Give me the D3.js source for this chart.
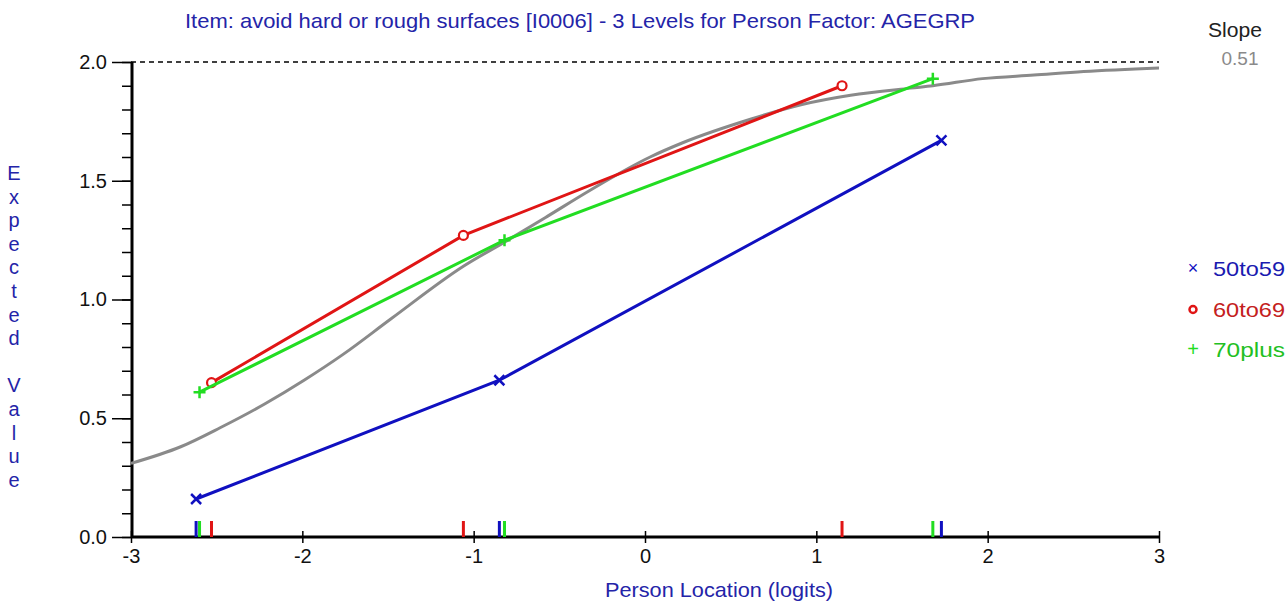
<!DOCTYPE html>
<html>
<head>
<meta charset="utf-8">
<script src="https://cdn.jsdelivr.net/npm/d3@7"></script>
<style>
    body { margin: 0; background: #fff; }
    text { font-family: "Liberation Sans Narrow", "Arial Narrow", "Liberation Sans", sans-serif; }
</style>
</head>
<body>
<svg id="chart"></svg>
<script>
// class intervals per age group: mean person location and observed mean score
const groupNames = ['50to59', '60to69', '70plus'];
const groupColors = ['#1010c0', '#e01515', '#22dd22'];
const loc50to59 = [-2.62, -0.85, 1.73];
const obs50to59 = [0.16, 0.66, 1.67];
const loc60to69 = [-2.53, -1.06, 1.15];
const obs60to69 = [0.65, 1.27, 1.90];
const loc70plus = [-2.60, -0.82, 1.68];
const obs70plus = [0.61, 1.25, 1.93];

// expected value curve
const curveLoc = [-3, -2.71, -2.48, -2.22, -1.99, -1.76, -1.48, -1.06, -0.80, -0.57, -0.32, 0.03, 0.22, 0.62, 0.91, 1.20, 1.55, 1.68, 1.97, 2.27, 2.56, 3];
const curveVal = [0.31, 0.38, 0.46, 0.56, 0.66, 0.77, 0.92, 1.14, 1.25, 1.35, 1.46, 1.60, 1.66, 1.76, 1.82, 1.86, 1.89, 1.90, 1.93, 1.945, 1.96, 1.975];

const xTicks = [-3, -2, -1, 0, 1, 2, 3];
const yTicks = [0.0, 0.5, 1.0, 1.5, 2.0];
const slopeValue = '0.51';

const config = {
    width: 1288,
    height: 601,
    margin: { top: 62, right: 129, bottom: 64, left: 131 }
};

const svg = d3.select('#chart')
    .attr('width', config.width)
    .attr('height', config.height);

const xScale = d3.scaleLinear()
    .domain([-3, 3])
    .range([config.margin.left, config.width - config.margin.right]);

const yScale = d3.scaleLinear()
    .domain([0, 2])
    .range([config.height - config.margin.bottom, config.margin.top]);

const series = [
    { name: groupNames[0], color: groupColors[0], marker: 'x', pts: loc50to59.map((d, i) => ({ x: d, y: obs50to59[i] })) },
    { name: groupNames[1], color: groupColors[1], marker: 'o', pts: loc60to69.map((d, i) => ({ x: d, y: obs60to69[i] })) },
    { name: groupNames[2], color: groupColors[2], marker: '+', pts: loc70plus.map((d, i) => ({ x: d, y: obs70plus[i] })) }
];

// title
svg.append('text')
    .attr('x', 580)
    .attr('y', 28)
    .attr('text-anchor', 'middle')
    .attr('fill', '#2424a8')
    .attr('textLength', 790)
    .attr('lengthAdjust', 'spacingAndGlyphs')
    .style('font-size', '21px')
    .text('Item: avoid hard or rough surfaces [I0006] - 3 Levels for Person Factor: AGEGRP');

// slope
svg.append('text')
    .attr('x', 1235).attr('y', 37)
    .attr('text-anchor', 'middle')
    .attr('fill', '#222')
    .attr('textLength', 54)
    .attr('lengthAdjust', 'spacingAndGlyphs')
    .style('font-size', '20px')
    .text('Slope');
svg.append('text')
    .attr('x', 1240).attr('y', 65)
    .attr('text-anchor', 'middle')
    .attr('fill', '#8a8a8a')
    .style('font-size', '19px')
    .text(slopeValue);

// dashed upper bound
svg.append('line')
    .attr('x1', xScale(-3)).attr('x2', xScale(3))
    .attr('y1', yScale(2)).attr('y2', yScale(2))
    .attr('stroke', '#000')
    .attr('stroke-width', 1.3)
    .attr('stroke-dasharray', '5,4');

// y axis
const yAxis = d3.axisLeft(yScale)
    .tickValues(d3.range(0, 2.001, 0.1))
    .tickSize(10)
    .tickFormat('');
const yAxisG = svg.append('g')
    .attr('transform', `translate(${xScale(-3) + 1},0)`)
    .call(yAxis);
yAxisG.select('.domain').attr('stroke-width', 3).attr('d', `M0,${yScale(0)}V${yScale(2)}`);
yAxisG.selectAll('.tick line').attr('stroke-width', 1.5);

const yMajor = d3.axisLeft(yScale)
    .tickValues(yTicks)
    .tickSize(20)
    .tickPadding(5)
    .tickFormat(d3.format('.1f'));
const yMajorG = svg.append('g')
    .attr('transform', `translate(${xScale(-3) + 1},0)`)
    .call(yMajor);
yMajorG.select('.domain').remove();
yMajorG.selectAll('.tick line').attr('stroke-width', 1.5);
yMajorG.selectAll('.tick text')
    .style('font-size', '20px')
    .attr('fill', '#111');

// x axis
const xAxis = d3.axisBottom(xScale)
    .tickValues(xTicks)
    .tickSize(6)
    .tickPadding(6)
    .tickFormat(d => d);
const xAxisG = svg.append('g')
    .attr('transform', `translate(0,${yScale(0)})`)
    .call(xAxis);
xAxisG.select('.domain').attr('stroke-width', 3).attr('d', `M${xScale(-3)},0H${xScale(3)}`);
xAxisG.selectAll('.tick line').attr('y1', -6).attr('stroke-width', 1.5);
xAxisG.selectAll('.tick text')
    .style('font-size', '20px')
    .attr('fill', '#111');

// axis titles
svg.append('text')
    .attr('x', 719).attr('y', 597)
    .attr('text-anchor', 'middle')
    .attr('fill', '#2424a8')
    .attr('textLength', 228)
    .attr('lengthAdjust', 'spacingAndGlyphs')
    .style('font-size', '21px')
    .text('Person Location (logits)');

const yLabel = 'Expected Value'.split('');
svg.append('g').selectAll('text')
    .data(yLabel)
    .join('text')
    .attr('x', 14)
    .attr('y', (d, i) => 180 + i * 23.6)
    .attr('text-anchor', 'middle')
    .attr('fill', '#2424a8')
    .style('font-size', '20px')
    .text(d => d);

// expected value curve
const curveData = curveLoc.map((d, i) => ({ x: d, y: curveVal[i] }));
const curveLine = d3.line()
    .x(d => xScale(d.x))
    .y(d => yScale(d.y))
    .curve(d3.curveMonotoneX);
svg.append('path')
    .datum(curveData)
    .attr('fill', 'none')
    .attr('stroke', '#8a8a8a')
    .attr('stroke-width', 3)
    .attr('d', curveLine);

// class interval location marks on the x axis
series.forEach(s => {
    svg.append('g').selectAll('line')
        .data(s.pts)
        .join('line')
        .attr('x1', d => xScale(d.x)).attr('x2', d => xScale(d.x))
        .attr('y1', yScale(0) - 16).attr('y2', yScale(0))
        .attr('stroke', s.color)
        .attr('stroke-width', 3);
});

function drawMarker(g, type, color, cx, cy) {
    if (type === 'x') {
        g.append('path')
            .attr('d', `M${cx - 5},${cy - 5}L${cx + 5},${cy + 5}M${cx - 5},${cy + 5}L${cx + 5},${cy - 5}`)
            .attr('stroke', color).attr('stroke-width', 2.5).attr('fill', 'none');
    } else if (type === 'o') {
        g.append('circle')
            .attr('cx', cx).attr('cy', cy).attr('r', 4.5)
            .attr('stroke', color).attr('stroke-width', 2.2).attr('fill', '#fff');
    } else {
        g.append('path')
            .attr('d', `M${cx - 6},${cy}H${cx + 6}M${cx},${cy - 6}V${cy + 6}`)
            .attr('stroke', color).attr('stroke-width', 2.5).attr('fill', 'none');
    }
}

// observed means
const obsLine = d3.line()
    .x(d => xScale(d.x))
    .y(d => yScale(d.y));
series.forEach(s => {
    const g = svg.append('g');
    g.append('path')
        .datum(s.pts)
        .attr('fill', 'none')
        .attr('stroke', s.color)
        .attr('stroke-width', 3)
        .attr('d', obsLine);
    s.pts.forEach(p => drawMarker(g, s.marker, s.color, xScale(p.x), yScale(p.y)));
});

// legend
const legendTextColors = ['#1a1ab0', '#c42020', '#22c022'];
series.forEach((s, i) => {
    const ly = 268 + i * 40.5;
    const g = svg.append('g');
    if (s.marker === 'x') {
        g.append('text').attr('x', 1193).attr('y', ly + 6).attr('text-anchor', 'middle')
            .attr('fill', s.color).style('font-size', '18px').text('×');
    } else if (s.marker === 'o') {
        g.append('circle').attr('cx', 1193).attr('cy', ly + 1).attr('r', 3.5)
            .attr('stroke', s.color).attr('stroke-width', 2.5).attr('fill', '#fff');
    } else {
        g.append('text').attr('x', 1193).attr('y', ly + 7).attr('text-anchor', 'middle')
            .attr('fill', s.color).style('font-size', '20px').text('+');
    }
    g.append('text')
        .attr('x', 1213).attr('y', ly + 8)
        .attr('fill', legendTextColors[i])
        .attr('textLength', 72)
        .attr('lengthAdjust', 'spacingAndGlyphs')
        .style('font-size', '21px')
        .text(s.name);
});
</script>
</body>
</html>
